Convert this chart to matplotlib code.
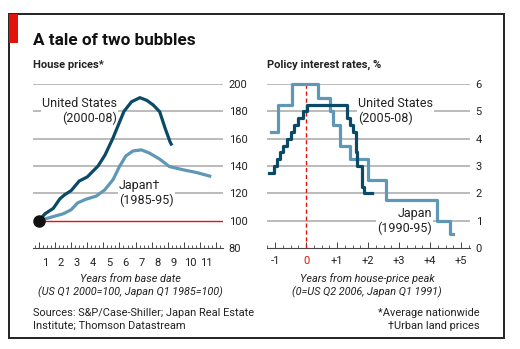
import matplotlib
matplotlib.use('Agg')
import matplotlib.pyplot as plt
from matplotlib.patches import Rectangle
from matplotlib.ticker import MultipleLocator

plt.rcParams['font.family'] = ['Roboto', 'DejaVu Sans']

# house prices, index = 100 at base date, x = years from base date
us_years = [0, 0.37, 0.89, 1.3, 1.6, 2.0, 2.5, 3.0, 3.67, 4.1, 4.58, 5.28, 5.75, 6.27, 6.7, 7.1, 7.5, 7.83, 8.14, 8.26]
us_prices = [100, 105, 109, 116, 119, 122, 129, 132, 140, 148, 160, 180, 187, 190, 188, 184.6, 179.7, 167.8, 157.7, 155]

japan_years = [0, 0.89, 1.5, 2.0, 2.4, 2.9, 3.56, 4.08, 4.6, 5.0, 5.4, 5.84, 6.36, 6.87, 7.5, 8.1, 8.96, 9.8, 10.7]
japan_prices = [100, 103, 105, 108, 113, 115.6, 118, 122.5, 130, 139.6, 147.4, 151, 151.8, 149.4, 145, 139.6, 137.2, 135.2, 132.3]

# policy rates, x = years from house-price peak (step starts, last one = end)
us_rate_t = [-1.18, -1.05, -0.95, -0.84, -0.73, -0.62, -0.49, -0.38, -0.25, -0.09, 0.04, 1.31, 1.42, 1.51, 1.61, 1.66, 1.80, 1.88, 2.12]
us_rate = [2.75, 3.0, 3.25, 3.5, 3.75, 4.0, 4.25, 4.5, 4.75, 5.0, 5.25, 4.75, 4.5, 4.25, 3.5, 3.0, 2.25, 2.0, 2.0]

japan_rate_t = [-1.14, -0.9, -0.46, 0.40, 0.77, 0.88, 1.10, 1.42, 2.0, 2.59, 4.22, 4.65, 4.75]
japan_rate = [4.25, 5.25, 6.0, 5.5, 5.0, 4.5, 3.75, 3.25, 2.5, 1.75, 1.0, 0.5, 0.5]

price_ticks = [80, 100, 120, 140, 160, 180, 200]
rate_ticks = [0, 1, 2, 3, 4, 5, 6]
year_labels = ['1', '2', '3', '4', '5', '6', '7', '8', '9', '10', '11']
peak_labels = ['-1', '0', '+1', '+2', '+3', '+4', '+5']

dark = '#0b4a66'
light = '#5e98b6'
red = '#e3120b'
grid_c = '#a8a8a8'
txt = '#222222'

fig = plt.figure(figsize=(5.2, 3.49), dpi=100)

# frame and red tag
fig.patches.append(Rectangle((9/520, 1-338/349), 495/520, 324/349, transform=fig.transFigure,
                             fill=False, lw=1.4, ec='#222222'))
fig.patches.append(Rectangle((9/520, 1-43/349), 9/520, 29/349, transform=fig.transFigure,
                             color=red, lw=0))

fig.text(33/520, 1-45/349, 'A tale of two bubbles', fontsize=12.3, fontweight='bold',
         color='#111111', va='baseline')
fig.text(33/520, 1-68/349, 'House prices*', fontsize=8, fontweight='bold', color=txt, va='baseline')
fig.text(267/520, 1-68/349, 'Policy interest rates, %', fontsize=8, fontweight='bold',
         color=txt, va='baseline')

ax1 = fig.add_axes([33/520, 1-248/349, 190/520, 164/349])
ax2 = fig.add_axes([267/520, 1-248/349, 203/520, 164/349])


def style(ax, yt):
    for s in ['top', 'left', 'right']:
        ax.spines[s].set_visible(False)
    ax.spines['bottom'].set_color('#444444')
    ax.spines['bottom'].set_linewidth(0.8)
    ax.yaxis.tick_right()
    ax.set_yticks(yt)
    ax.tick_params(axis='y', length=0, pad=4, labelsize=8, labelcolor=txt)
    ax.tick_params(axis='x', which='major', direction='in', length=4, width=0.7, color='#444444',
                   labelsize=8, labelcolor=txt, pad=6)
    ax.tick_params(axis='x', which='minor', direction='in', length=2, width=0.6, color='#444444')
    ax.xaxis.set_minor_locator(MultipleLocator(0.25))


# left panel
ax1.set_xlim(-0.37, 11.43)
ax1.set_ylim(80, 200)
style(ax1, price_ticks)
ax1.set_xticks(range(0, 12))
ax1.set_xticklabels([])
for i, lab in enumerate(year_labels):
    ax1.text(i + 0.37, -0.09, lab, transform=ax1.get_xaxis_transform(), ha='center', va='center',
             fontsize=8, color=txt)
ax1.hlines([v for v in price_ticks[2:]], -0.37, 11.43, color=grid_c, lw=1.1, zorder=1)
ax1.hlines(us_prices[0], us_years[0], 11.43, color=red, lw=1.0, zorder=2)
ax1.plot(japan_years, japan_prices, color=light, lw=2.3, zorder=4, solid_capstyle='butt')
ax1.plot(us_years, us_prices, color=dark, lw=2.3, zorder=5, solid_capstyle='butt')
ax1.plot(us_years[0], us_prices[0], 'o', ms=8, color='#111111', zorder=6, clip_on=False)
ax1.text(4.84, 180, 'United States\n(2000-08)', ha='right', va='center', fontsize=9,
         multialignment='right', color=txt, linespacing=1.15, zorder=3,
         bbox=dict(fc='white', ec='none', pad=1))
ax1.text(4.97, 120, 'Japan†\n(1985-95)', ha='left', va='center', fontsize=9,
         multialignment='left', color=txt, linespacing=1.15, zorder=3,
         bbox=dict(fc='white', ec='none', pad=1))

# right panel
ax2.set_xlim(-1.26, 5.29)
ax2.set_ylim(0, 6)
style(ax2, rate_ticks)
ax2.set_xticks(range(-1, 6))
ax2.set_xticklabels(peak_labels)
ax2.get_xticklabels()[1].set_color(red)
ax2.hlines(rate_ticks[1:], -1.26, 5.29, color=grid_c, lw=1.1, zorder=1)
ax2.axvline(0, color=red, lw=1, ls=(0, (3, 2)), zorder=2)
ax2.step(japan_rate_t, japan_rate, where='post', color=light, lw=2.3, zorder=4, clip_on=False)
ax2.step(us_rate_t, us_rate, where='post', color=dark, lw=2.3, zorder=5, clip_on=False)
ax2.text(1.68, 5.0, 'United States\n(2005-08)', ha='left', va='center', fontsize=9,
         multialignment='left', color=txt, linespacing=1.15, zorder=3,
         bbox=dict(fc='white', ec='none', pad=1))
ax2.text(4.06, 1.0, 'Japan\n(1990-95)', ha='right', va='center', fontsize=9,
         multialignment='right', color=txt, linespacing=1.15, zorder=3,
         bbox=dict(fc='white', ec='none', pad=1))

# footer
fig.text(130/520, 1-278.5/349, 'Years from base date', ha='center', va='center', fontsize=7.8,
         style='italic', color=txt)
fig.text(130/520, 1-292.5/349, '(US Q1 2000=100, Japan Q1 1985=100)', ha='center', va='center',
         fontsize=7.8, style='italic', color=txt)
fig.text(367/520, 1-278.5/349, 'Years from house-price peak', ha='center', va='center', fontsize=7.8,
         style='italic', color=txt)
fig.text(367/520, 1-292.5/349, '(0=US Q2 2006, Japan Q1 1991)', ha='center', va='center',
         fontsize=7.8, style='italic', color=txt)
fig.text(33/520, 1-312.5/349, 'Sources: S&P/Case-Shiller; Japan Real Estate', va='center',
         fontsize=7.9, color=txt)
fig.text(33/520, 1-326/349, 'Institute; Thomson Datastream', va='center', fontsize=7.9, color=txt)
fig.text(480/520, 1-312.5/349, '*Average nationwide', ha='right', va='center', fontsize=7.9, color=txt)
fig.text(480/520, 1-326/349, '†Urban land prices', ha='right', va='center', fontsize=7.9, color=txt)

fig.savefig('out.png', dpi=100, facecolor='white')
